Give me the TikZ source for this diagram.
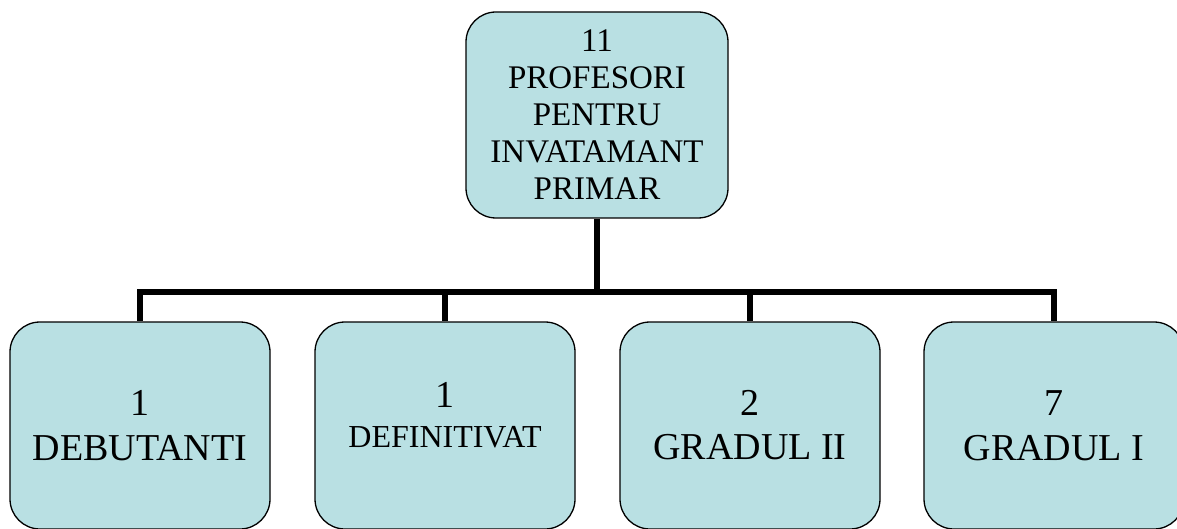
\documentclass[tikz,border=0pt]{standalone}
\usepackage{fontspec}
\setmainfont{Liberation Serif}
\usepackage{tikz}
\definecolor{boxblue}{RGB}{185,224,227}

\begin{document}
\begin{tikzpicture}[x=1pt, y=-1pt,
		box/.style={rectangle, rounded corners=30pt, fill=boxblue, draw, line width=1.3pt, inner sep=0pt, minimum width=260pt, minimum height=207pt, align=center},
		conn/.style={line width=6pt, line join=miter}]
		\useasboundingbox (0,0) rectangle (1177,529);
		
		%Nodes
		\node[box, minimum width=262pt, minimum height=206pt, font=\fontsize{33}{37}\selectfont] (prof) at (597,115) {11\\PROFESORI\\PENTRU\\INVATAMANT\\PRIMAR};
		\node[box, font=\fontsize{38}{45}\selectfont] (deb) at (140,425.5) {1\\DEBUTANTI};
		\node[box] (def) at (445,425.5) {};
		\node[align=center, inner sep=0pt, font=\fontsize{38}{40}\selectfont] (deftxt) at ([yshift=10pt]def.center) {1\\{\fontsize{32}{40}\selectfont DEFINITIVAT}};
		\node[box, font=\fontsize{38}{44}\selectfont] (gr2) at (750,425.5) {2\\GRADUL II};
		\node[box, font=\fontsize{38}{45}\selectfont] (gr1) at (1054,425.5) {7\\GRADUL I};
		\coordinate (bar) at (597,292);
		
		%Connectors
		\draw[conn] (prof.south) -- (bar);
		\foreach \b in {deb, def, gr2, gr1}
			\draw[conn] (bar) -| (\b.north);
	\end{tikzpicture}
\end{document}
